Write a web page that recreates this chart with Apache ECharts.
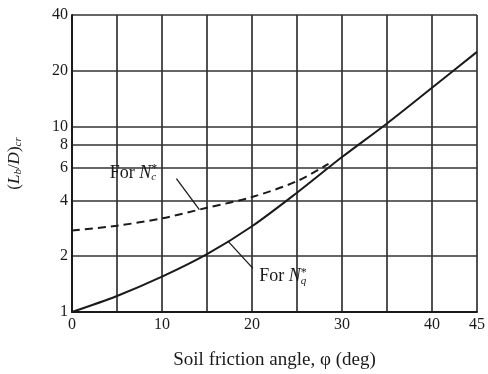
<!DOCTYPE html>
<html><head><meta charset="utf-8">
<script src="https://cdn.jsdelivr.net/npm/echarts@6/dist/echarts.min.js"></script>
<style>html,body{margin:0;padding:0;background:#fff}#c{width:488px;height:374px}</style>
</head><body><div id="c"></div>
<script>
const phi = [0, 5, 10, 15, 20, 25, 30, 35, 40, 45];
const nqRatio = [1.0, 1.22, 1.55, 2.05, 2.9, 4.4, 6.85, 10.4, 16.2, 25.3];
const phiC = [0, 5, 10, 15, 20, 25, 28.5];
const ncRatio = [2.75, 2.92, 3.2, 3.65, 4.17, 5.08, 6.3];
const yTicks = [1, 2, 4, 6, 8, 10, 20, 40];
const xLabels = [0, 10, 20, 30, 40, 45];
const ncLabelAt = [4.2, 5.6];
const ncLeader = [[11.6, 5.24], [14.15, 3.57]];
const nqLabelAt = [20.8, 1.55];
const nqLeader = [[17.3, 2.42], [20.1, 1.72]];

const FONT = 'Liberation Serif';
const INK = '#1a1a1a';
const GRID = '#333333';
const richLbl = {
  n: {fontFamily: FONT, fontSize: 18, color: INK},
  i: {fontFamily: FONT, fontSize: 18, fontStyle: 'italic', color: INK},
  sup: {fontFamily: FONT, fontSize: 12, color: INK, padding: [0, 0, 8, 0]},
  sub: {fontFamily: FONT, fontSize: 11, fontStyle: 'italic', color: INK, padding: [8, 0, 0, -6]}
};
const chart = echarts.init(document.getElementById('c'));
chart.setOption({
  animation: false,
  backgroundColor: '#fff',
  grid: {left: 72, right: 11, top: 15, bottom: 62, show: false, containLabel: false, outerBoundsMode: 'none'},
  xAxis: {
    type: 'value', min: 0, max: 45, interval: 5,
    name: 'Soil friction angle, \u03c6 (deg)', nameLocation: 'middle', nameGap: 39,
    nameTextStyle: {fontFamily: FONT, fontSize: 19, color: INK},
    axisLine: {show: true, onZero: false, lineStyle: {color: INK, width: 2}},
    axisTick: {show: false},
    axisLabel: {customValues: xLabels, fontFamily: FONT, fontSize: 16, color: INK, margin: 5},
    splitLine: {show: true, lineStyle: {color: GRID, width: 1.7}}
  },
  yAxis: {
    type: 'log', logBase: 10, min: 1, max: 40,
    name: '{a|(}{i|L}{s|b}{a|/}{i|D}{a|)}{s|cr}', nameLocation: 'middle', nameGap: 48, nameRotate: 90,
    nameTextStyle: {rich: {
      a: {fontFamily: FONT, fontSize: 17, color: INK},
      i: {fontFamily: FONT, fontSize: 17, fontStyle: 'italic', color: INK},
      s: {fontFamily: FONT, fontSize: 11, fontStyle: 'italic', color: INK, padding: [7, 0, 0, 0]}
    }},
    axisLine: {show: true, lineStyle: {color: INK, width: 2}},
    axisTick: {show: false, customValues: yTicks},
    axisLabel: {customValues: yTicks, fontFamily: FONT, fontSize: 16, color: INK, margin: 4},
    splitLine: {show: true, lineStyle: {color: GRID, width: 1.7}}
  },
  series: [
    {
      type: 'line', data: phi.map((p, k) => [p, nqRatio[k]]), smooth: 0.3, symbol: 'none',
      lineStyle: {color: INK, width: 2},
      markLine: {silent: true, symbol: 'none', label: {show: false},
        lineStyle: {color: INK, width: 1.3, type: 'solid'},
        data: [[{coord: nqLeader[0]}, {coord: nqLeader[1]}]]},
      markPoint: {symbol: 'circle', symbolSize: 0,
        label: {show: true, position: 'right', distance: 0,
          formatter: '{n|For }{i|N}{sup|*}{sub|q}', rich: richLbl},
        data: [{coord: nqLabelAt}]}
    },
    {
      type: 'line', data: phiC.map((p, k) => [p, ncRatio[k]]), smooth: 0.3, symbol: 'none',
      lineStyle: {color: INK, width: 2, type: [8, 5]},
      markLine: {silent: true, symbol: 'none', label: {show: false},
        lineStyle: {color: INK, width: 1.3, type: 'solid'},
        data: [[{coord: ncLeader[0]}, {coord: ncLeader[1]}]]},
      markPoint: {symbol: 'circle', symbolSize: 0,
        label: {show: true, position: 'right', distance: 0,
          formatter: '{n|For }{i|N}{sup|*}{sub|c}', rich: richLbl},
        data: [{coord: ncLabelAt}]}
    }
  ]
});
</script></body></html>
